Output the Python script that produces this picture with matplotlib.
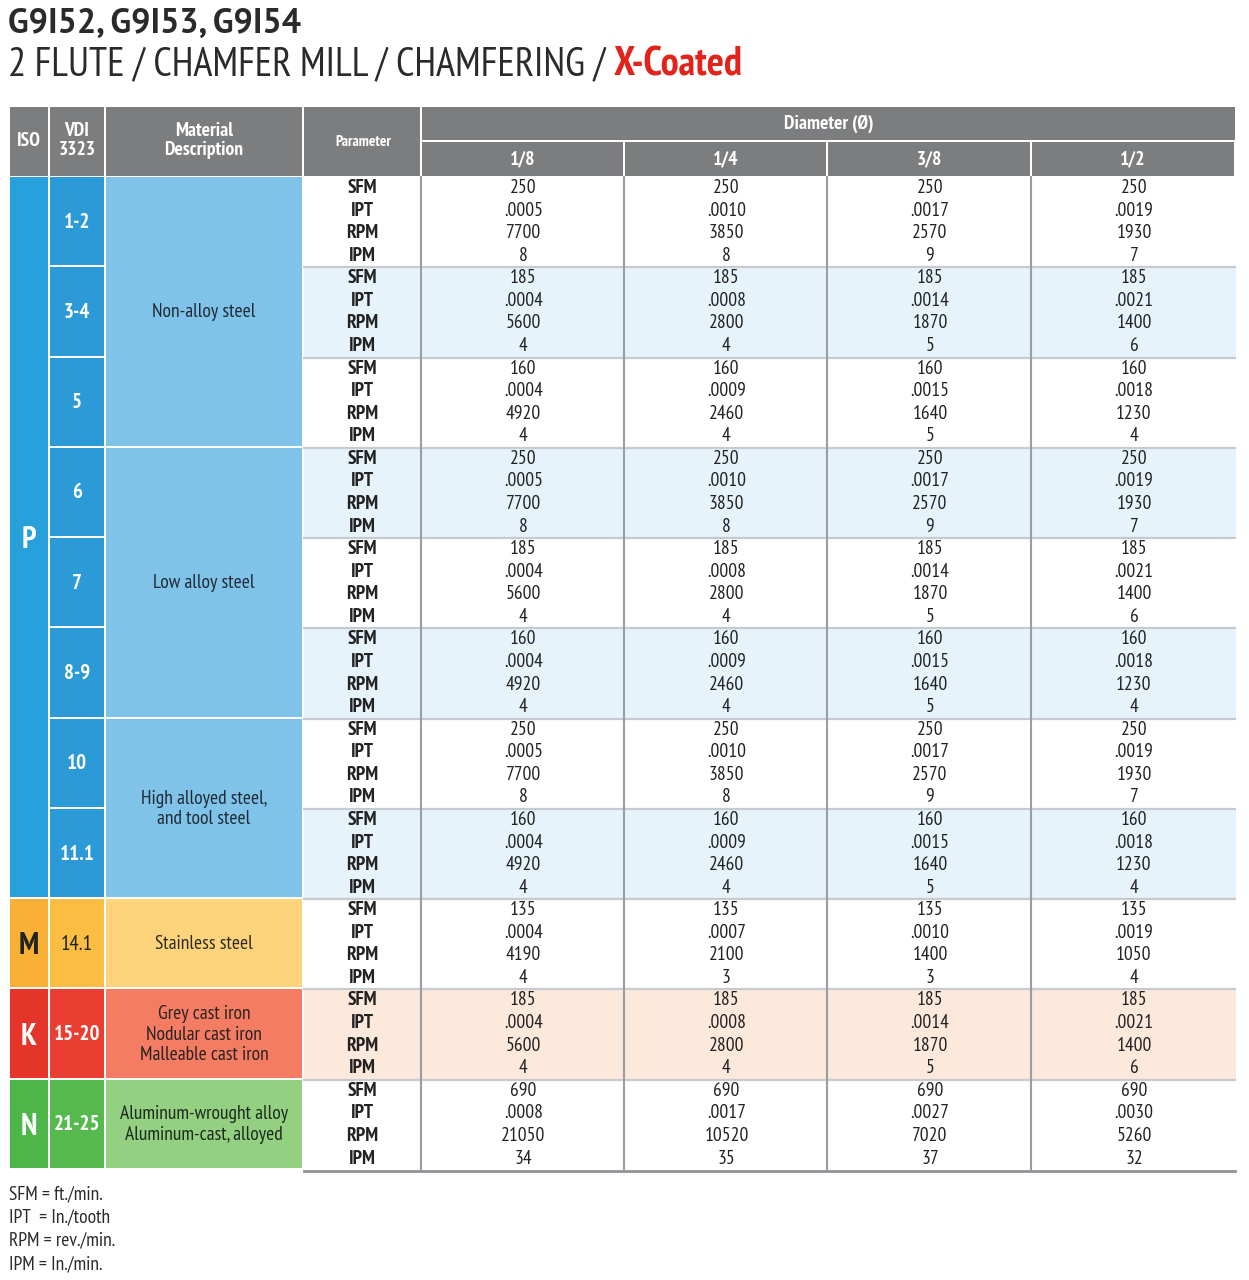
import matplotlib
matplotlib.use("Agg")
import matplotlib.pyplot as plt
from matplotlib.patches import Rectangle

# narrow sans close to the original condensed face
plt.rcParams['font.family'] = ['PT Sans Narrow', 'DejaVu Sans']

# ---- data ----
diameters = ['1/8', '1/4', '3/8', '1/2']
params = ['SFM', 'IPT', 'RPM', 'IPM']
vdi = ['1-2', '3-4', '5', '6', '7', '8-9', '10', '11.1', '14.1', '15-20', '21-25']

sfm = [250, 185, 160, 250, 185, 160, 250, 160, 135, 185, 690]
ipt_18 = ['.0005', '.0004', '.0004', '.0005', '.0004', '.0004', '.0005', '.0004', '.0004', '.0004', '.0008']
ipt_14 = ['.0010', '.0008', '.0009', '.0010', '.0008', '.0009', '.0010', '.0009', '.0007', '.0008', '.0017']
ipt_38 = ['.0017', '.0014', '.0015', '.0017', '.0014', '.0015', '.0017', '.0015', '.0010', '.0014', '.0027']
ipt_12 = ['.0019', '.0021', '.0018', '.0019', '.0021', '.0018', '.0019', '.0018', '.0019', '.0021', '.0030']
rpm_18 = [7700, 5600, 4920, 7700, 5600, 4920, 7700, 4920, 4190, 5600, 21050]
rpm_14 = [3850, 2800, 2460, 3850, 2800, 2460, 3850, 2460, 2100, 2800, 10520]
rpm_38 = [2570, 1870, 1640, 2570, 1870, 1640, 2570, 1640, 1400, 1870, 7020]
rpm_12 = [1930, 1400, 1230, 1930, 1400, 1230, 1930, 1230, 1050, 1400, 5260]
ipm_18 = [8, 4, 4, 8, 4, 4, 8, 4, 4, 4, 34]
ipm_14 = [8, 4, 4, 8, 4, 4, 8, 4, 3, 4, 35]
ipm_38 = [9, 5, 5, 9, 5, 5, 9, 5, 3, 5, 37]
ipm_12 = [7, 6, 4, 7, 6, 4, 7, 4, 4, 6, 32]

iso_groups = [('P', 0, 8), ('M', 8, 9), ('K', 9, 10), ('N', 10, 11)]
materials = [('Non-alloy steel', 0, 3), ('Low alloy steel', 3, 6),
             ('High alloyed steel,\nand tool steel', 6, 8), ('Stainless steel', 8, 9),
             ('Grey cast iron\nNodular cast iron\nMalleable cast iron', 9, 10),
             ('Aluminum-wrought alloy\nAluminum-cast, alloyed', 10, 11)]

footnotes = ['SFM = ft./min.', 'IPT  = In./tooth', 'RPM = rev./min.', 'IPM = In./min.']

ipt_cols = [ipt_18, ipt_14, ipt_38, ipt_12]
rpm_cols = [rpm_18, rpm_14, rpm_38, rpm_12]
ipm_cols = [ipm_18, ipm_14, ipm_38, ipm_12]

# ---- styles ----
# iso cell, vdi cell, material cell, label colour, material text colour
iso_colors = {'P': ('#27a0dc', '#2b9ad6', '#7fc3e8', 'white', '#1f2a36'),
              'M': ('#f8b134', '#fbbd42', '#fdd47c', '#222222', '#2e2a20'),
              'K': ('#e5352b', '#eb3e33', '#f47c63', 'white', '#2a2220'),
              'N': ('#4cb748', '#55b94e', '#93d082', 'white', '#1e2a1c')}
header_gray = '#7c7d7f'
light_blue = '#e6f3fb'
peach = '#fde8dc'
txt = '#222222'

col_x = [10, 50, 106, 304, 422, 625, 828, 1032, 1236]
gap = 2
head_top, head_mid, head_bot = 107, 142, 176
body_top = 177
row_h = (1170 - body_top) / len(vdi)

fig = plt.figure(figsize=(12.49, 12.8), dpi=100)
ax = fig.add_axes([0, 0, 1, 1])
ax.set_xlim(0, 1249)
ax.set_ylim(1280, 0)
ax.axis('off')

# title
ax.text(8, 24, 'G9I52, G9I53, G9I54', fontsize=24.5, fontweight='bold', color='#2a2a2a', va='center',
        family=['PT Sans', 'Open Sans', 'DejaVu Sans'])
t1 = ax.text(8, 65, '2 FLUTE / CHAMFER MILL / CHAMFERING / ', fontsize=29, color='#2a2a2a', va='center')
ax.annotate('X-Coated', xy=(1, 0.5), xycoords=t1, fontsize=29, fontweight='bold',
            color='#e2231a', va='center', ha='left')

def cell(x0, x1, y0, y1, color):
    ax.add_patch(Rectangle((x0, y0), x1 - x0 - gap, y1 - y0, facecolor=color, edgecolor='none'))

# header
for i, lab in enumerate(['ISO', 'VDI\n3323', 'Material\nDescription']):
    cell(col_x[i], col_x[i + 1], head_top, head_bot, header_gray)
    ax.text((col_x[i] + col_x[i + 1] - gap) / 2, (head_top + head_bot) / 2 - 1, lab, color='white',
            fontsize=14, fontweight='bold', ha='center', va='center', linespacing=1.05)
cell(col_x[3], col_x[4], head_top, head_bot, header_gray)
ax.text((col_x[3] + col_x[4]) / 2, (head_top + head_bot) / 2, 'Parameter', color='white',
        fontsize=11, fontweight='bold', ha='center', va='center')
ax.add_patch(Rectangle((col_x[4], head_top), col_x[-1] - col_x[4] - 1, head_mid - head_top - gap,
                       facecolor=header_gray, edgecolor='none'))
ax.text((col_x[4] + col_x[-1]) / 2, (head_top + head_mid) / 2 - 1, 'Diameter (Ø)', color='white',
        fontsize=14, fontweight='bold', ha='center', va='center')
for j, d in enumerate(diameters):
    cell(col_x[4 + j], col_x[5 + j], head_mid, head_bot, header_gray)
    ax.text((col_x[4 + j] + col_x[5 + j] - gap) / 2, (head_mid + head_bot) / 2, d, color='white',
            fontsize=14, fontweight='bold', ha='center', va='center')

def row_iso(r):
    for name, a, b in iso_groups:
        if a <= r < b:
            return name

# body rows
for r in range(len(vdi)):
    y0 = body_top + r * row_h
    iso = row_iso(r)
    if iso == 'P':
        bg = light_blue if r % 2 else 'white'
    elif iso == 'K':
        bg = peach
    else:
        bg = 'white'
    ax.add_patch(Rectangle((col_x[3], y0), col_x[-1] - col_x[3], row_h, facecolor=bg, edgecolor='none'))
    if r > 0:
        ax.plot([col_x[3], col_x[-1] - 1], [y0, y0], color='#c5cbd1', lw=1.6)
    c = iso_colors[iso]
    ax.add_patch(Rectangle((col_x[1], y0), col_x[2] - col_x[1] - gap, row_h - gap, facecolor=c[1], edgecolor='none'))
    ax.text((col_x[1] + col_x[2] - gap) / 2, y0 + row_h / 2, vdi[r], color=c[3], fontsize=15,
            fontweight='bold' if iso != 'M' else 'normal', ha='center', va='center')
    for k, p in enumerate(params):
        yy = y0 + 11 + k * 22.6
        ax.text(362, yy, p, fontsize=14, fontweight='bold', color=txt, ha='center', va='center')
        for j in range(len(diameters)):
            vals = [sfm[r], ipt_cols[j][r], rpm_cols[j][r], ipm_cols[j][r]]
            ax.text((col_x[4 + j] + col_x[5 + j]) / 2, yy, str(vals[k]), fontsize=14, color=txt,
                    ha='center', va='center')

# dividers
for x in col_x[4:-1]:
    ax.plot([x - 1, x - 1], [body_top, 1170], color='#9a9ea3', lw=1.5)
ax.plot([col_x[3], col_x[-1] - 1], [1171, 1171], color='#8f9296', lw=2)

# ISO cells
for name, a, b in iso_groups:
    c = iso_colors[name]
    y0 = body_top + a * row_h
    h = (b - a) * row_h
    ax.add_patch(Rectangle((col_x[0], y0), col_x[1] - col_x[0] - gap, h - gap, facecolor=c[0], edgecolor='none'))
    ax.text((col_x[0] + col_x[1] - gap) / 2, y0 + h / 2 + 2, name, color=c[3], fontsize=22,
            fontweight='bold', ha='center', va='center')

# material cells
for lab, a, b in materials:
    iso = row_iso(a)
    c = iso_colors[iso]
    y0 = body_top + a * row_h
    h = (b - a) * row_h
    ax.add_patch(Rectangle((col_x[2], y0), col_x[3] - col_x[2] - gap, h - gap, facecolor=c[2], edgecolor='none'))
    ax.text((col_x[2] + col_x[3] - gap) / 2, y0 + h / 2, lab, color=c[4],
            fontsize=14, ha='center', va='center', linespacing=1.2)

# footnotes
for i, f in enumerate(footnotes):
    ax.text(9, 1194 + i * 23.3, f, fontsize=14, color='#2a2a2a', va='center')

fig.savefig('out.png', dpi=100)
